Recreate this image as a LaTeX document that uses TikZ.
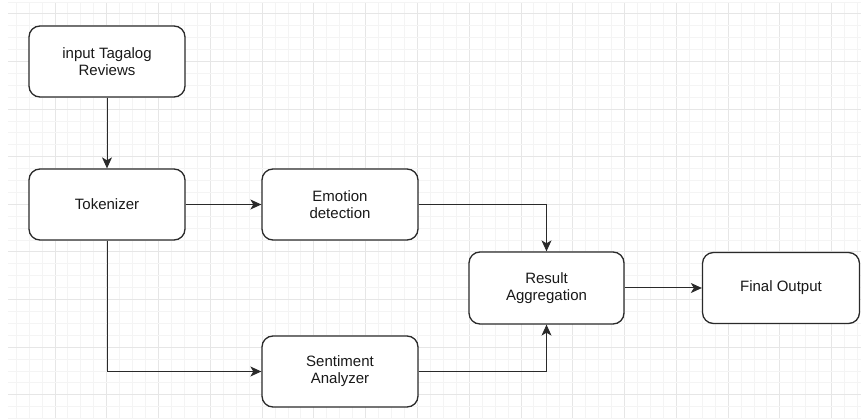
\documentclass[tikz,border=0pt]{standalone}
\usepackage{fontspec}
\setmainfont{Liberation Sans}
\usetikzlibrary{arrows.meta}
\definecolor{gridminor}{HTML}{F4F4F4}
\definecolor{gridmajor}{HTML}{E6E6E6}
\definecolor{edge}{HTML}{2A2A2A}
\tikzset{
  box/.style={draw=edge, line width=1.3pt, rounded corners=11pt, fill=white,
    minimum width=156pt, minimum height=71pt, align=center, inner sep=0pt,
    font=\fontsize{15}{17}\selectfont, text=black!90},
  arr/.style={draw=edge, line width=1pt, -{Stealth[length=11pt,width=10pt,inset=3pt]}},
}
\begin{document}
\begin{tikzpicture}[x=1pt,y=-1pt]
\useasboundingbox (0,0) rectangle (861,419);
\fill[white] (0,0) rectangle (861,419);
% grid
\foreach \k in {-3,...,62}{
  \pgfmathsetmacro{\xx}{55+12.945*\k}
  \pgfmathtruncatemacro{\m}{mod(\k+400,4)}
  \ifnum\m=0
    \draw[gridmajor, line width=1pt] (\xx,3) -- (\xx,419);
  \else
    \draw[gridminor, line width=1pt] (\xx,3) -- (\xx,419);
  \fi
}
\foreach \k in {-1,...,34}{
  \pgfmathsetmacro{\yy}{14+11.9*\k}
  \pgfmathtruncatemacro{\m}{mod(\k+400,4)}
  \ifnum\m=0
    \draw[gridmajor, line width=1pt] (8,\yy) -- (861,\yy);
  \else
    \draw[gridminor, line width=1pt] (8,\yy) -- (861,\yy);
  \fi
}
% nodes
\node[box] (inp) at (107,61.5) {input Tagalog\\Reviews};
\node[box] (tok) at (107,204.5) {Tokenizer};
\node[box] (emo) at (340,204.5) {Emotion\\detection};
\node[box] (sen) at (340,371.5) {Sentiment\\Analyzer};
\node[box, minimum width=155pt, minimum height=72pt] (res) at (546.5,288) {Result\\Aggregation};
\node[box, minimum width=157pt] (fin) at (781,288) {Final Output};
% connectors
\draw[arr] (inp.south) -- (tok.north);
\draw[arr] (tok.east) -- (emo.west);
\draw[arr] (emo.east) -| (res.north);
\draw[arr] (tok.south) |- (sen.west);
\draw[arr] (sen.east) -| (res.south);
\draw[arr] (res.east) -- (fin.west);
\end{tikzpicture}
\end{document}
